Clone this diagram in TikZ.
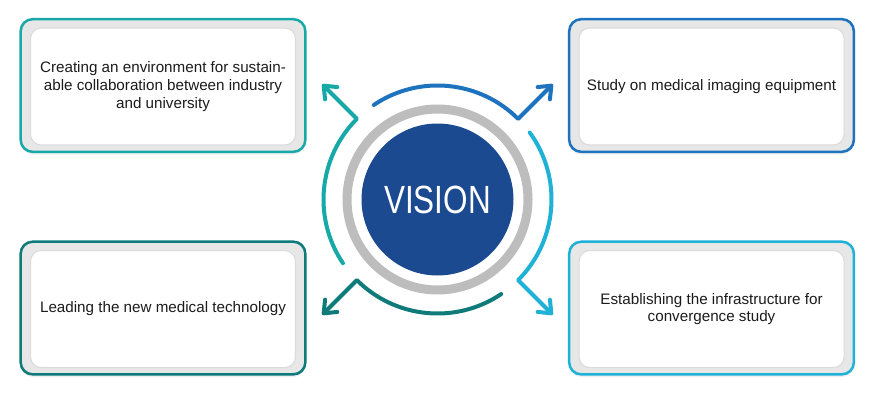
\documentclass[tikz,border=0pt]{standalone}
\usepackage{fontspec}
\setmainfont{Liberation Sans}
\newfontfamily\visionfont[FakeStretch=0.8]{Liberation Sans}
\usetikzlibrary{positioning, calc, arrows.meta, shadows}

\definecolor{tealA}{RGB}{23,168,168}
\definecolor{blueB}{RGB}{30,115,190}
\definecolor{tealC}{RGB}{15,122,122}
\definecolor{cyanD}{RGB}{32,178,214}
\definecolor{visionblue}{RGB}{27,74,145}
\definecolor{ringgray}{RGB}{189,189,189}
\definecolor{bandgray}{RGB}{231,231,231}
\definecolor{textdark}{RGB}{28,28,28}

\begin{document}
\begin{tikzpicture}[
      x=0.75pt, y=0.75pt,
      card/.style={rectangle, draw=#1, line width=1.9pt, rounded corners=9pt, fill=bandgray, minimum width=213.5pt, minimum height=99.5pt,
        drop shadow={opacity=0.12, shadow xshift=0pt, shadow yshift=-2pt}},
      panel/.style={rectangle, draw=gray!28, line width=0.8pt, rounded corners=8pt, fill=white, minimum width=198.75pt, minimum height=87.75pt,
        align=center, text=textdark, font=\fontsize{11.4}{13.2}\selectfont},
      ring/.style={draw=ringgray, line width=6.75pt},
      arcline/.style={line width=3pt, line cap=round, line join=round, -{Straight Barb[length=8pt,width=13pt,round]}}
    ]

    \fill[white] (0,0) rectangle (882,401);
    \useasboundingbox (0,0) rectangle (882,401);

    % Nodes
    \node[card=tealA] (cardTL) at (163,315.5) {};
    \node[card=blueB, right=196pt of cardTL] (cardTR) {};
    \node[card=tealC, below=65.5pt of cardTL] (cardBL) {};
    \node[card=cyanD, below=65.5pt of cardTR] (cardBR) {};

    \node[panel] (industry) at ([yshift=-0.75pt]cardTL.center) {Creating an environment for sustain-\\able collaboration between industry\\and university};
    \node[panel] (imaging) at ([yshift=-0.75pt]cardTR.center) {Study on medical imaging equipment};
    \node[panel] (leading) at ([yshift=-0.75pt]cardBL.center) {Leading the new medical technology};
    \node[panel] (infra) at ([yshift=-0.75pt]cardBR.center) {Establishing the infrastructure for\\convergence study};

    \node[circle, fill=visionblue, minimum size=114pt, inner sep=0pt, text=white,
      font=\visionfont\fontsize{29.5}{32}\selectfont] (vision) at (437.5,201.5) {VISION};
    \draw[ring] (vision.center) circle[radius=90.5];

    % Connections
    \coordinate (tipTR) at ($(vision.center)+(45:163)$);
    \coordinate (tipBR) at ($(vision.center)+(-45:163)$);
    \coordinate (tipBL) at ($(vision.center)+(-135:163)$);
    \coordinate (tipTL) at ($(vision.center)+(135:163)$);

    \draw[arcline, blueB] ($(vision.center)+(124:114)$) arc[start angle=124, end angle=45, radius=114] -- (tipTR);
    \draw[arcline, cyanD] ($(vision.center)+(36:114)$) arc[start angle=36, end angle=-45, radius=114] -- (tipBR);
    \draw[arcline, tealC] ($(vision.center)+(-56:114)$) arc[start angle=-56, end angle=-135, radius=114] -- (tipBL);
    \draw[arcline, tealA] ($(vision.center)+(214:114)$) arc[start angle=214, end angle=135, radius=114] -- (tipTL);
  \end{tikzpicture}
\end{document}
